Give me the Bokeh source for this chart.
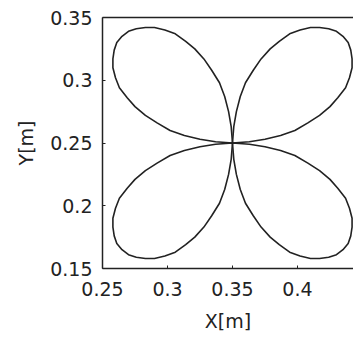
from bokeh.plotting import figure
from bokeh.models import Range1d, FixedTicker, LinearAxis
from bokeh.embed import file_html
from bokeh.resources import INLINE

# Four-leaf curve (one list per leaf)
leaf_ur_x = [0.350, 0.363, 0.375, 0.387, 0.398, 0.408, 0.417, 0.425, 0.431, 0.437, 0.440,
             0.442, 0.442, 0.441, 0.439, 0.435, 0.430, 0.424, 0.417, 0.410, 0.402,
             0.394, 0.386, 0.379, 0.372, 0.366, 0.360, 0.356, 0.353, 0.351, 0.350]
leaf_ur_y = [0.250, 0.251, 0.253, 0.256, 0.260, 0.266, 0.272, 0.279, 0.286, 0.294, 0.302,
             0.310, 0.317, 0.324, 0.330, 0.335, 0.339, 0.341, 0.342, 0.342, 0.340,
             0.337, 0.331, 0.325, 0.317, 0.308, 0.298, 0.287, 0.275, 0.263, 0.250]
leaf_ul_x = [0.350, 0.337, 0.325, 0.313, 0.302, 0.292, 0.283, 0.275, 0.269, 0.263, 0.260,
             0.258, 0.258, 0.259, 0.261, 0.265, 0.270, 0.276, 0.283, 0.290, 0.298,
             0.306, 0.314, 0.321, 0.328, 0.334, 0.340, 0.344, 0.347, 0.349, 0.350]
leaf_ul_y = [0.250, 0.251, 0.253, 0.256, 0.260, 0.266, 0.272, 0.279, 0.286, 0.294, 0.302,
             0.310, 0.317, 0.324, 0.330, 0.335, 0.339, 0.341, 0.342, 0.342, 0.340,
             0.337, 0.331, 0.325, 0.317, 0.308, 0.298, 0.287, 0.275, 0.263, 0.250]
leaf_ll_x = [0.350, 0.337, 0.325, 0.313, 0.302, 0.292, 0.283, 0.275, 0.269, 0.263, 0.260,
             0.258, 0.258, 0.259, 0.261, 0.265, 0.270, 0.276, 0.283, 0.290, 0.298,
             0.306, 0.314, 0.321, 0.328, 0.334, 0.340, 0.344, 0.347, 0.349, 0.350]
leaf_ll_y = [0.250, 0.249, 0.247, 0.244, 0.240, 0.234, 0.228, 0.221, 0.214, 0.206, 0.198,
             0.190, 0.183, 0.176, 0.170, 0.165, 0.161, 0.159, 0.158, 0.158, 0.160,
             0.163, 0.169, 0.175, 0.183, 0.192, 0.202, 0.213, 0.225, 0.237, 0.250]
leaf_lr_x = [0.350, 0.363, 0.375, 0.387, 0.398, 0.408, 0.417, 0.425, 0.431, 0.437, 0.440,
             0.442, 0.442, 0.441, 0.439, 0.435, 0.430, 0.424, 0.417, 0.410, 0.402,
             0.394, 0.386, 0.379, 0.372, 0.366, 0.360, 0.356, 0.353, 0.351, 0.350]
leaf_lr_y = [0.250, 0.249, 0.247, 0.244, 0.240, 0.234, 0.228, 0.221, 0.214, 0.206, 0.198,
             0.190, 0.183, 0.176, 0.170, 0.165, 0.161, 0.159, 0.158, 0.158, 0.160,
             0.163, 0.169, 0.175, 0.183, 0.192, 0.202, 0.213, 0.225, 0.237, 0.250]

x_ticks = [0.25, 0.30, 0.35, 0.40]
x_tick_labels = ["0.25", "0.3", "0.35", "0.4"]
y_ticks = [0.15, 0.20, 0.25, 0.30, 0.35]
y_tick_labels = ["0.15", "0.2", "0.25", "0.3", "0.35"]

FONT = "DejaVu Sans"
INK = "#222222"

p = figure(width=353, height=338,
           x_range=Range1d(0.25, 0.4431), y_range=Range1d(0.15, 0.35),
           output_backend="svg", toolbar_location=None,
           min_border_left=102, min_border_right=0,
           min_border_top=17, min_border_bottom=70,
           x_axis_label="X[m]", y_axis_label="Y[m]")
p.outline_line_color = None
p.grid.visible = False
p.background_fill_color = "white"
p.border_fill_color = "white"

p.multi_line(xs=[leaf_ur_x, leaf_ul_x, leaf_ll_x, leaf_lr_x],
             ys=[leaf_ur_y, leaf_ul_y, leaf_ll_y, leaf_lr_y],
             line_color=INK, line_width=1.6)

for ax, ticks, labels in ((p.xaxis[0], x_ticks, x_tick_labels),
                          (p.yaxis[0], y_ticks, y_tick_labels)):
    ax.ticker = FixedTicker(ticks=ticks)
    ax.major_label_overrides = {t: l for t, l in zip(ticks, labels)}
    ax.minor_tick_line_color = None
    ax.major_tick_in = 3
    ax.major_tick_out = 0
    ax.axis_line_color = INK
    ax.axis_line_width = 1.5
    ax.major_tick_line_color = INK
    ax.major_label_text_font = FONT
    ax.major_label_text_font_size = "19px"
    ax.major_label_text_color = INK
    ax.axis_label_text_font = FONT
    ax.axis_label_text_font_size = "19px"
    ax.axis_label_text_font_style = "normal"
    ax.axis_label_text_color = INK

p.xaxis[0].major_label_standoff = 13
p.xaxis[0].axis_label_standoff = 11
p.yaxis[0].major_label_standoff = 10
p.yaxis[0].axis_label_standoff = 10

# top border of the box (no ticks, no labels)
top = LinearAxis(ticker=FixedTicker(ticks=[]), minor_tick_line_color=None,
                 major_tick_in=0, major_tick_out=0,
                 axis_line_color=INK, axis_line_width=1.5)
p.add_layout(top, "above")

open("out.html", "w").write(file_html(p, INLINE))
